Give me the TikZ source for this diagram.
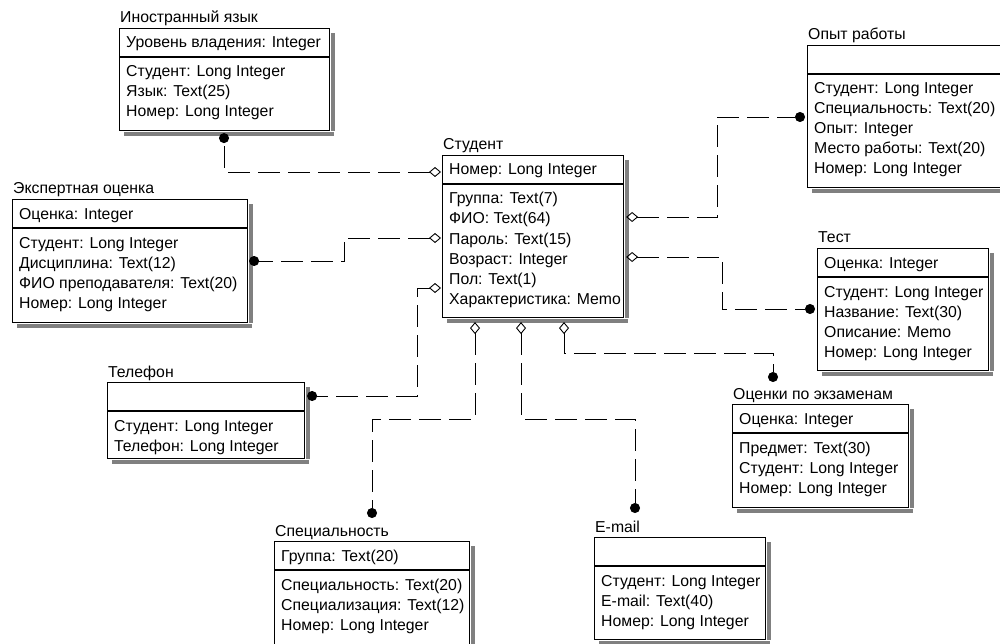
\documentclass[tikz,border=0pt]{standalone}
\usepackage{fontspec}
\setmainfont{Liberation Sans}
\usetikzlibrary{arrows.meta}

% --- one table of the schema: name, top left x/y, width, height, title, key, fields ---
\newcommand{\entbox}[8]{%
  \node[ent, minimum width=#4, minimum height=#5] (#1) at (#2,#3) {};
  \fill[boxshade] (#1.north east) ++(0.6,5) rectangle ++(4.5,#5-4.4);
  \fill[boxshade] (#1.south west) ++(5,0.6) rectangle ++(#4-0.5,4.5);
  \draw[boxline] (#2,#3+29) -- (#2+#4,#3+29);
  \node[etitle] (#1-t) at (#2+1,#3-5) {#6};
  \node[field] (#1-k) at (#2+7,#3+20) {#7};
  \foreach \f [count=\i] in {#8} {
    \node[field] (#1-\i) at (#2+7,#3+29+\i*20) {\f};
  }
}

\tikzset{
  boxline/.style={line width=1.1pt},
  boxshade/.style={fill=black!50},
  ent/.style={draw, boxline, fill=white, anchor=north west, inner sep=0pt},
  etitle/.style={anchor=base west, inner sep=0pt, font=\fontsize{15.8}{18}\selectfont},
  field/.style={anchor=base west, inner sep=0pt, font=\fontsize{15.8}{18}\selectfont},
  rel/.style={line width=0.9pt, dash pattern=on 22pt off 8pt,
    {Diamond[open,length=12pt,width=10pt]}-{Circle[length=10pt,width=10pt]}}
}

\begin{document}
\begin{tikzpicture}[x=1pt,y=-1pt]
  \useasboundingbox (0,0) rectangle (1000,644);
  \clip (0,0) rectangle (1000,644);

  % --- tables ---
  \entbox{lang}{119}{28}{210}{102}{Иностранный язык}{Уровень владения: Integer}
    {Студент: Long Integer, Язык: Text(25), Номер: Long Integer}
  \entbox{expert}{12}{199}{235}{123}{Экспертная оценка}{Оценка: Integer}
    {Студент: Long Integer, Дисциплина: Text(12), ФИО преподавателя: Text(20), Номер: Long Integer}
  \entbox{student}{442}{155}{181}{162}{Студент}{Номер: Long Integer}
    {Группа: Text(7), ФИО: Text(64), Пароль: Text(15), Возраст: Integer, Пол: Text(1), Характеристика: Memo}
  \entbox{work}{807}{45}{200}{142}{Опыт работы}{}
    {Студент: Long Integer, Специальность: Text(20), Опыт: Integer, Место работы: Text(20), Номер: Long Integer}
  \entbox{test}{817}{248}{171}{122}{Тест}{Оценка: Integer}
    {Студент: Long Integer, Название: Text(30), Описание: Memo, Номер: Long Integer}
  \entbox{exam}{732}{404}{176}{103}{Оценки по экзаменам}{Оценка: Integer}
    {Предмет: Text(30), Студент: Long Integer, Номер: Long Integer}
  \entbox{mail}{594}{537}{171}{102}{E-mail}{}
    {Студент: Long Integer, E-mail: Text(40), Номер: Long Integer}
  \entbox{spec}{274}{541}{195}{104}{Специальность}{Группа: Text(20)}
    {Специальность: Text(20), Специализация: Text(12), Номер: Long Integer}
  \entbox{phone}{107}{382}{197}{76}{Телефон}{}
    {Студент: Long Integer, Телефон: Long Integer}

  % --- link ends on Студент (diamonds) ---
  \coordinate (s-lang)  at ([xshift=-1pt,yshift=-17pt]student.north west);
  \coordinate (s-exp)   at ([xshift=-1pt,yshift=-83pt]student.north west);
  \coordinate (s-phone) at ([xshift=-1pt,yshift=-133pt]student.north west);
  \coordinate (s-work)  at ([xshift=2pt,yshift=-62pt]student.north east);
  \coordinate (s-test)  at ([xshift=2pt,yshift=-102pt]student.north east);
  \coordinate (s-spec)  at ([xshift=33pt,yshift=-4pt]student.south west);
  \coordinate (s-mail)  at ([xshift=79pt,yshift=-4pt]student.south west);
  \coordinate (s-exam)  at ([xshift=122pt,yshift=-4pt]student.south west);

  % --- link ends on the other tables (dots) ---
  \coordinate (lang-c)  at ([xshift=105pt,yshift=-2pt]lang.south west);
  \coordinate (exp-c)   at ([xshift=1pt,yshift=-62pt]expert.north east);
  \coordinate (phone-c) at ([xshift=2pt,yshift=-14pt]phone.north east);
  \coordinate (work-c)  at ([xshift=-2pt,yshift=-72pt]work.north west);
  \coordinate (test-c)  at ([xshift=-2pt,yshift=-61pt]test.north west);
  \coordinate (exam-c)  at ([xshift=41pt,yshift=22pt]exam.north west);
  \coordinate (mail-c)  at ([xshift=41pt,yshift=24pt]mail.north west);
  \coordinate (spec-c)  at ([xshift=98pt,yshift=23pt]spec.north west);

  % --- links ---
  \draw[rel] (s-lang) -| (lang-c);
  \draw[rel] (s-exp) -- ++(-97,0) |- (exp-c);
  \draw[rel] (s-phone) -- ++(-24,0) |- (phone-c);
  \draw[rel] (s-work) -- ++(91,0) |- (work-c);
  \draw[rel] (s-test) -- ++(96,0) |- (test-c);
  \draw[rel] (s-exam) -- ++(0,31) -| (exam-c);
  \draw[rel] (s-mail) -- ++(0,97) -| (mail-c);
  \draw[rel] (s-spec) -- ++(0,97) -| (spec-c);
\end{tikzpicture}
\end{document}
